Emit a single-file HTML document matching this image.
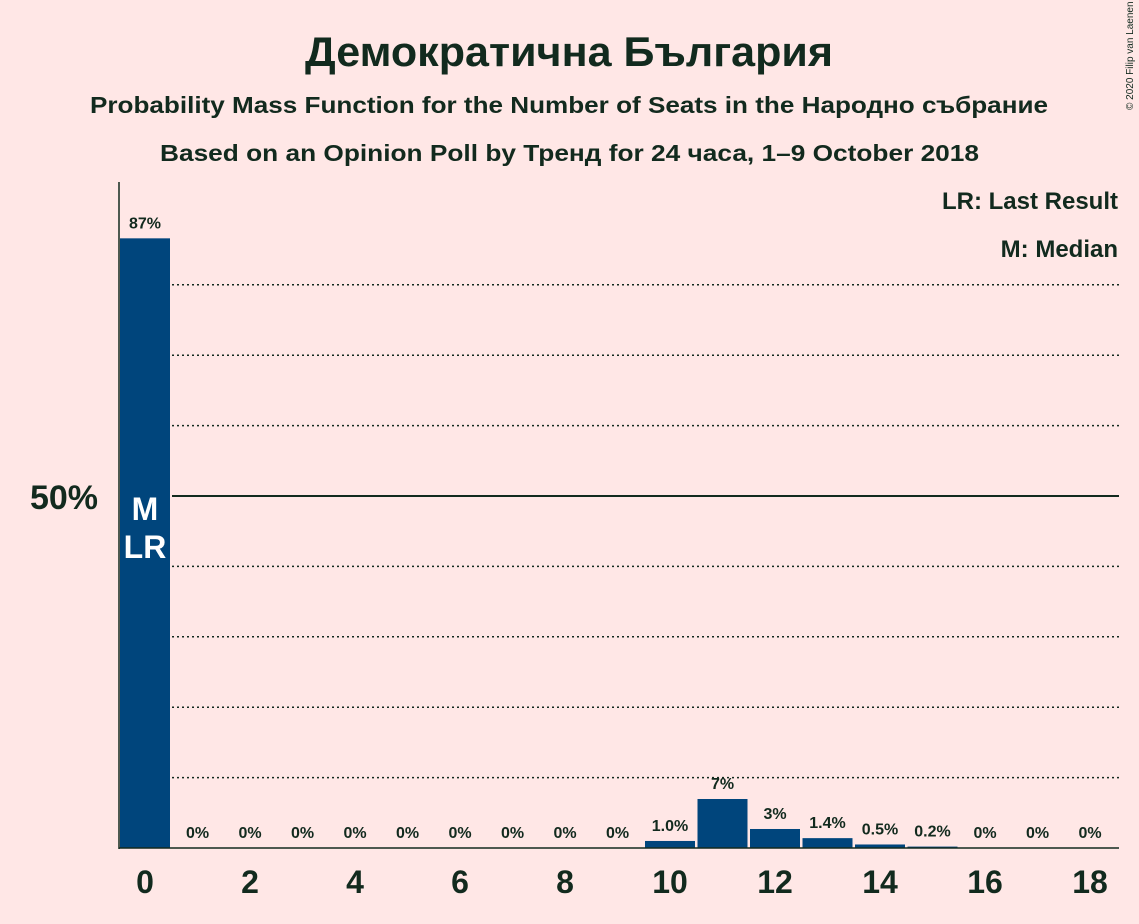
<!DOCTYPE html>
<html><head><meta charset="utf-8"><style>
body{margin:0;background:#ffe7e6;}
svg{display:block;font-family:"Liberation Sans",sans-serif;}
</style></head><body>
<svg id="c" width="1139" height="924">
<rect width="1139" height="924" fill="#ffe7e6"/>
<text x="305" y="66" textLength="528" lengthAdjust="spacingAndGlyphs" font-size="42" font-weight="bold" fill="#122a1e">Демократична България</text>
<text x="90" y="113" textLength="958" lengthAdjust="spacingAndGlyphs" font-size="23" font-weight="bold" fill="#122a1e">Probability Mass Function for the Number of Seats in the Народно събрание</text>
<text x="160" y="161" textLength="819" lengthAdjust="spacingAndGlyphs" font-size="23" font-weight="bold" fill="#122a1e">Based on an Opinion Poll by Тренд for 24 часа, 1–9 October 2018</text>
<text x="1133" y="110" font-size="10" fill="#122a1e" transform="rotate(-90 1133 110)">© 2020 Filip van Laenen</text>
<text x="1118" y="209" text-anchor="end" font-size="24" font-weight="bold" fill="#122a1e">LR: Last Result</text>
<text x="1118" y="257" text-anchor="end" font-size="24" font-weight="bold" fill="#122a1e">M: Median</text>
<g id="grid"></g><g id="bars"></g><g id="xt"></g>
<line x1="119" y1="182" x2="119" y2="849" stroke="#122a1e" stroke-width="1.5"/>
<line x1="119" y1="848" x2="1119" y2="848" stroke="#122a1e" stroke-width="1.5"/>
<text x="98" y="509" text-anchor="end" font-size="34" font-weight="bold" fill="#122a1e">50%</text>
</svg>
<script>
const seats=[0,1,2,3,4,5,6,7,8,9,10,11,12,13,14,15,16,17,18];
const probs=[86.6,0,0,0,0,0,0,0,0,0,1.0,6.96,2.7,1.4,0.5,0.2,0,0,0];
const labels=["87%","0%","0%","0%","0%","0%","0%","0%","0%","0%","1.0%","7%","3%","1.4%","0.5%","0.2%","0%","0%","0%"];
const xTicks=[0,2,4,6,8,10,12,14,16,18];
const gridVals=[10,20,30,40,50,60,70,80];
const NS="http://www.w3.org/2000/svg";
const y=v=>848-v*7.04, x=s=>145+s*52.5;
function mk(tag,attrs,parent,text){const e=document.createElementNS(NS,tag);for(const k in attrs)e.setAttribute(k,attrs[k]);if(text!==undefined)e.textContent=text;document.getElementById(parent).appendChild(e);return e;}
gridVals.forEach(g=>{const l=mk('line',{x1:172,x2:1119,y1:y(g),y2:y(g),stroke:'#122a1e','stroke-width':g==50?2:1.5,'stroke-dasharray':g==50?'':'2,3'},'grid');

});
seats.forEach((s,i)=>{const v=probs[i];
if(v>0){const r=mk('rect',{x:x(s)-25,y:y(v),width:50,height:848-y(v),fill:'#00457c'},'bars');

}
const t=mk('text',{x:x(s),y:(v>0?y(v):848)-10,'text-anchor':'middle','font-size':16,'font-weight':'bold',fill:'#122a1e'},'bars',labels[i]);

});
const m=mk('text',{x:x(0),y:520,'text-anchor':'middle','font-size':32,'font-weight':'bold',fill:'#fff'},'bars','M');


const lr=mk('text',{x:x(0),y:558,'text-anchor':'middle','font-size':32,'font-weight':'bold',fill:'#fff'},'bars','LR');


xTicks.forEach(s=>{const t=mk('text',{x:x(s),y:893,'text-anchor':'middle','font-size':32,'font-weight':'bold',fill:'#122a1e'},'xt',String(s));

});
</script>
</body></html>
